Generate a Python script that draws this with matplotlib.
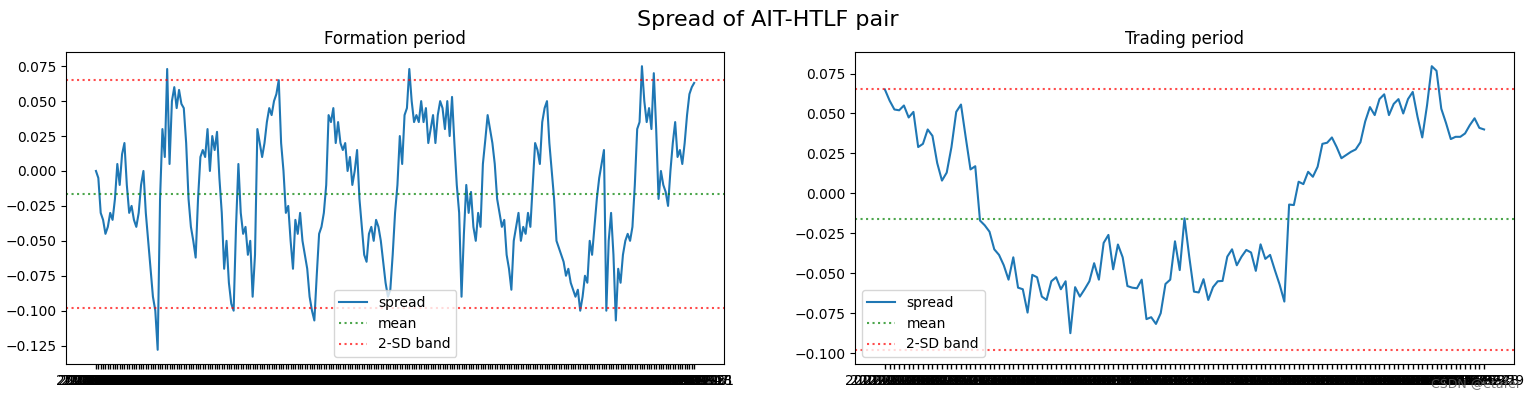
import numpy as np
import pandas as pd
import matplotlib
matplotlib.use('Agg')
import matplotlib.pyplot as plt

# spread values
formation_spread = [
    0.000, -0.005, -0.030, -0.035, -0.045, -0.040, -0.030, -0.035, -0.020, 0.005,
    -0.010, 0.012, 0.020, -0.010, -0.030, -0.025, -0.035, -0.040, -0.030, -0.010,
    0.000, -0.030, -0.050, -0.070, -0.090, -0.100, -0.128, -0.020, 0.030, 0.010,
    0.073, 0.005, 0.050, 0.060, 0.045, 0.058, 0.048, 0.045, 0.020, -0.020,
    -0.040, -0.050, -0.062, -0.020, 0.010, 0.015, 0.010, 0.030, 0.000, 0.025,
    0.015, 0.028, -0.005, -0.030, -0.070, -0.050, -0.080, -0.095, -0.100, -0.040,
    0.005, -0.030, -0.045, -0.040, -0.060, -0.050, -0.090, -0.060, 0.030, 0.020,
    0.010, 0.020, 0.035, 0.045, 0.040, 0.050, 0.055, 0.065, 0.020, 0.000,
    -0.030, -0.025, -0.050, -0.070, -0.035, -0.045, -0.030, -0.050, -0.060, -0.070,
    -0.090, -0.100, -0.107, -0.075, -0.045, -0.040, -0.030, -0.010, 0.040, 0.035,
    0.045, 0.020, 0.035, 0.020, 0.015, 0.020, 0.000, 0.010, -0.010, 0.000,
    0.015, -0.020, -0.040, -0.060, -0.065, -0.045, -0.040, -0.050, -0.035, -0.040,
    -0.050, -0.065, -0.080, -0.090, -0.085, -0.060, -0.030, -0.010, 0.025, 0.005,
    0.040, 0.045, 0.073, 0.050, 0.035, 0.040, 0.035, 0.050, 0.035, 0.045,
    0.020, 0.030, 0.040, 0.020, 0.040, 0.050, 0.045, 0.030, 0.050, 0.025,
    0.053, 0.020, -0.010, -0.030, -0.090, -0.045, -0.010, -0.030, -0.015, -0.040,
    -0.050, -0.030, -0.040, 0.005, 0.022, 0.040, 0.030, 0.020, 0.005, -0.020,
    -0.030, -0.040, -0.035, -0.060, -0.070, -0.085, -0.050, -0.040, -0.030, -0.050,
    -0.040, -0.045, -0.030, -0.040, -0.010, 0.020, 0.015, 0.005, 0.035, 0.045,
    0.050, 0.020, 0.000, -0.020, -0.050, -0.055, -0.060, -0.065, -0.075, -0.070,
    -0.080, -0.085, -0.090, -0.085, -0.100, -0.090, -0.075, -0.080, -0.050, -0.060,
    -0.040, -0.020, -0.005, 0.005, 0.015, -0.100, -0.050, -0.030, -0.060, -0.107,
    -0.070, -0.080, -0.060, -0.050, -0.045, -0.050, -0.040, -0.010, 0.030, 0.035,
    0.075, 0.050, 0.035, 0.045, 0.030, 0.070, 0.030, -0.020, 0.000, -0.010,
    -0.015, -0.025, 0.000, 0.020, 0.035, 0.010, 0.015, 0.005, 0.020, 0.040,
    0.055, 0.060, 0.063,
]

trading_spread = [
    0.065, 0.058, 0.0525, 0.052, 0.055, 0.0475, 0.051, 0.029, 0.031, 0.040,
    0.036, 0.019, 0.008, 0.013, 0.029, 0.051, 0.0556, 0.035, 0.015, 0.017,
    -0.017, -0.020, -0.024, -0.035, -0.0385, -0.045, -0.054, -0.040, -0.059, -0.060,
    -0.0746, -0.051, -0.0525, -0.0646, -0.0667, -0.055, -0.0525, -0.060, -0.055, -0.0875,
    -0.0587, -0.0646, -0.060, -0.055, -0.0437, -0.054, -0.031, -0.026, -0.0475, -0.032,
    -0.040, -0.058, -0.059, -0.0594, -0.054, -0.0787, -0.0775, -0.0817, -0.075, -0.0567,
    -0.054, -0.030, -0.048, -0.0156, -0.0396, -0.0615, -0.062, -0.0537, -0.0667, -0.0587,
    -0.055, -0.0548, -0.0396, -0.035, -0.045, -0.0396, -0.0354, -0.037, -0.0485, -0.0319,
    -0.041, -0.0385, -0.048, -0.057, -0.0677, -0.0070, -0.0073, 0.0073, 0.0058, 0.0135,
    0.0104, 0.0167, 0.031, 0.0317, 0.035, 0.029, 0.022, 0.024, 0.026, 0.0275,
    0.032, 0.045, 0.054, 0.049, 0.059, 0.062, 0.049, 0.056, 0.059, 0.050,
    0.059, 0.0635, 0.048, 0.035, 0.055, 0.0796, 0.0767, 0.053, 0.044, 0.034,
    0.0354, 0.0354, 0.0375, 0.0427, 0.047, 0.041, 0.040,
]

spread_mean = -0.0163
spread_std = 0.0408

# date labels (categorical x axis, one tick per day)
formation_dates = [d.strftime('%Y-%m-%d') for d in
                   pd.bdate_range('2020-01-02', periods=len(formation_spread))]
trading_dates = [d.strftime('%Y-%m-%d') for d in
                 pd.bdate_range('2021-01-04', periods=len(trading_spread))]

fig = plt.figure(figsize=(15.36, 4.01), dpi=100)
ax1 = fig.add_axes([0.043, 0.0923, 0.4284, 0.778])
ax2 = fig.add_axes([0.5566, 0.0923, 0.4291, 0.778])

panels = [(ax1, formation_dates, formation_spread, 'Formation period', 'lower center'),
          (ax2, trading_dates, trading_spread, 'Trading period', 'lower left')]

for ax, dates, spread, title, loc in panels:
    ax.plot(dates, spread, label='spread', color='C0')
    ax.axhline(spread_mean, color='g', linestyle=':', alpha=0.7, label='mean')
    ax.axhline(spread_mean + 2 * spread_std, color='r', linestyle=':', alpha=0.7,
               label='2-SD band')
    ax.axhline(spread_mean - 2 * spread_std, color='r', linestyle=':', alpha=0.7)
    ax.set_title(title)
    ax.tick_params(axis='x', width=1.0)
    ax.legend(loc=loc)

fig.suptitle('Spread of AIT-HTLF pair', fontsize=16, y=0.975)
fig.text(0.99, 0.043, 'CSDN @etafer', ha='right', va='center', fontsize=9,
         color='#555555', alpha=0.8)

fig.savefig('out.png', dpi=100)
